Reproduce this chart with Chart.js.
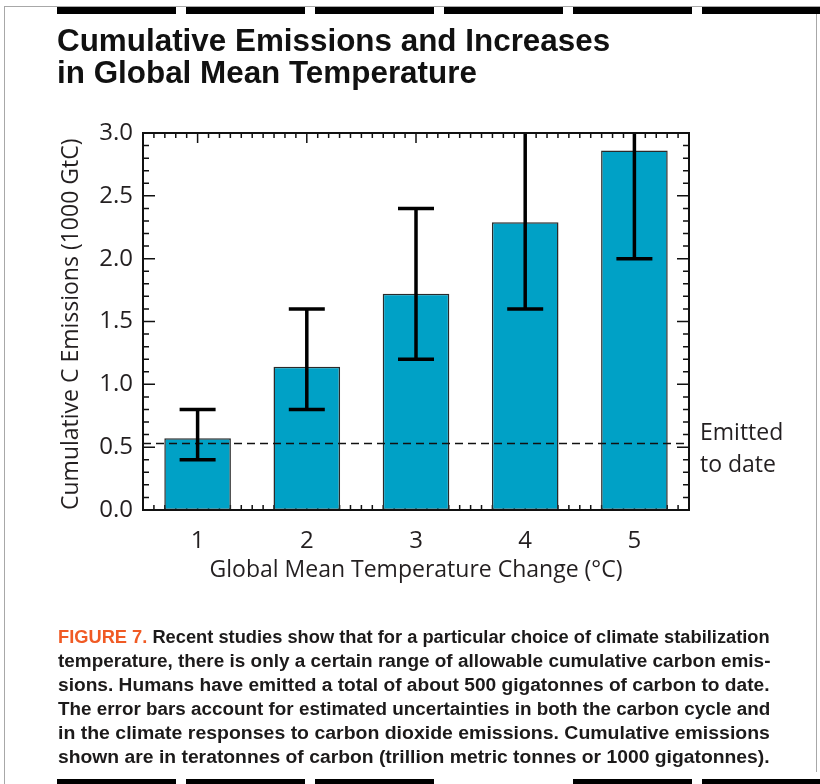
<!DOCTYPE html>
<html>
<head>
<meta charset="utf-8">
<script src="https://cdn.jsdelivr.net/npm/chart.js@4.4.0/dist/chart.umd.min.js"></script>
<style>
  html, body { margin: 0; padding: 0; background: #fff; }
  #page { position: relative; width: 820px; height: 784px; overflow: hidden; background: #fff; }
  #wrap { position: absolute; left: 0; top: 0; width: 820px; height: 784px; }
  .rule { position: absolute; background: #000; }
  .edge { position: absolute; background: #a8a8a8; }
  .title { position: absolute; left: 57px; white-space: nowrap; color: #111;
           font: bold 31px "Liberation Sans", Arial, sans-serif; line-height: 33px; transform-origin: 0 0; }
  .cap { position: absolute; left: 58px; white-space: nowrap; color: #1c1a1a;
         font: bold 17.5px "Liberation Sans", Arial, sans-serif; line-height: 24px; transform-origin: 0 0; }
  .cap b { color: #f05a24; font-weight: bold; }
  .note { position: absolute; left: 700px; color: #231f20; font: 23px "Open Sans", sans-serif; line-height: 31px; }
</style>
</head>
<body>
<div id="page">
  <div id="wrap"><canvas id="chart"></canvas></div>

  <div class="edge" style="left:4px;top:6px;width:1px;height:778px"></div>
  <div class="edge" style="left:4px;top:6px;width:816px;height:1px"></div>
  <div class="edge" style="left:816px;top:6px;width:1px;height:766px"></div>

  <div class="rule" style="left:57px;top:7px;width:119px;height:7px"></div>
  <div class="rule" style="left:186px;top:7px;width:119px;height:7px"></div>
  <div class="rule" style="left:315px;top:7px;width:119px;height:7px"></div>
  <div class="rule" style="left:444px;top:7px;width:119px;height:7px"></div>
  <div class="rule" style="left:573px;top:7px;width:119px;height:7px"></div>
  <div class="rule" style="left:702px;top:7px;width:118px;height:7px"></div>

  <div class="rule" style="left:57px;top:779px;width:119px;height:5px"></div>
  <div class="rule" style="left:186px;top:779px;width:119px;height:5px"></div>
  <div class="rule" style="left:315px;top:779px;width:119px;height:5px"></div>
  <div class="rule" style="left:573px;top:779px;width:119px;height:5px"></div>
  <div class="rule" style="left:702px;top:779px;width:118px;height:5px"></div>

  <div class="title" id="t1" style="top:24px">Cumulative Emissions and Increases</div>
  <div class="title" id="t2" style="top:56px">in Global Mean Temperature</div>

  <div class="note" style="top:416px">Emitted</div>
  <div class="note" style="top:448px">to date</div>

  <div class="cap" style="top:625px"><b>FIGURE 7.</b> Recent studies show that for a particular choice of climate stabilization</div>
  <div class="cap" style="top:649px">temperature, there is only a certain range of allowable cumulative carbon emis-</div>
  <div class="cap" style="top:673px">sions. Humans have emitted a total of about 500 gigatonnes of carbon to date.</div>
  <div class="cap" style="top:697px">The error bars account for estimated uncertainties in both the carbon cycle and</div>
  <div class="cap" style="top:721px">in the climate responses to carbon dioxide emissions. Cumulative emissions</div>
  <div class="cap" style="top:745px">shown are in teratonnes of carbon (trillion metric tonnes or 1000 gigatonnes).</div>
</div>

<script>
// values (1000 GtC)
const tempLabels = ['1', '2', '3', '4', '5'];
const emissions = [0.57, 1.14, 1.72, 2.29, 2.86];
const errLow = [0.40, 0.80, 1.20, 1.60, 2.00];
const errHigh = [0.80, 1.60, 2.40, 3.20, 3.30];   // last two run off the top
const emittedToDate = 0.53;

const ink = '#231f20';
const axisFont = '"Open Sans", "Noto Sans", sans-serif';

// justify caption lines to the column width, stretch title to its width
document.querySelectorAll('.cap').forEach(el => {
    el.style.transform = 'scaleX(' + (712 / el.offsetWidth) + ')';
});
const t1 = document.getElementById('t1');
const tScale = 553 / t1.offsetWidth;
document.querySelectorAll('.title').forEach(el => {
    el.style.transform = 'scaleX(' + tScale + ')';
});

// inward ticks on all four sides, dashed "emitted" line, error bars, frame
const axisFrame = {
    id: 'axisFrame',
    beforeDatasetsDraw(chart) {
        const { ctx, chartArea: a, scales: { x, y } } = chart;
        ctx.save();
        ctx.strokeStyle = '#111';
        ctx.lineWidth = 1.5;
        ctx.beginPath();
        for (let i = 1; i < 30; i++) {
            const py = y.getPixelForValue(i / 10);
            const len = i % 5 === 0 ? 12 : 6;
            ctx.moveTo(a.left, py); ctx.lineTo(a.left + len, py);
            ctx.moveTo(a.right, py); ctx.lineTo(a.right - len, py);
        }
        for (let i = 1; i < 50; i++) {
            const px = x.getPixelForValue(-0.5 + i / 10);
            const len = i % 10 === 5 ? 10 : 5;
            ctx.moveTo(px, a.top); ctx.lineTo(px, a.top + len);
            ctx.moveTo(px, a.bottom); ctx.lineTo(px, a.bottom - len);
        }
        ctx.stroke();
        ctx.restore();
    },
    afterDatasetsDraw(chart) {
        const { ctx, chartArea: a, scales: { x, y } } = chart;
        ctx.save();
        ctx.beginPath();
        ctx.rect(a.left, a.top, a.right - a.left, a.bottom - a.top);
        ctx.clip();

        // emitted to date
        const yd = y.getPixelForValue(emittedToDate);
        ctx.strokeStyle = '#111';
        ctx.lineWidth = 1.5;
        ctx.setLineDash([8, 5]);
        ctx.beginPath();
        ctx.moveTo(a.left, yd);
        ctx.lineTo(a.right, yd);
        ctx.stroke();
        ctx.setLineDash([]);

        // error bars
        ctx.strokeStyle = '#000';
        ctx.lineWidth = 3.5;
        ctx.beginPath();
        emissions.forEach((v, i) => {
            const px = x.getPixelForValue(i);
            const lo = y.getPixelForValue(errLow[i]);
            const hi = y.getPixelForValue(errHigh[i]);
            ctx.moveTo(px, lo); ctx.lineTo(px, hi);
            ctx.moveTo(px - 18, lo); ctx.lineTo(px + 18, lo);
            ctx.moveTo(px - 18, hi); ctx.lineTo(px + 18, hi);
        });
        ctx.stroke();
        ctx.restore();

        ctx.save();
        ctx.strokeStyle = '#111';
        ctx.lineWidth = 2;
        ctx.strokeRect(a.left, a.top, a.right - a.left, a.bottom - a.top);
        ctx.restore();
    }
};

new Chart(document.getElementById('chart'), {
    type: 'bar',
    data: {
        labels: tempLabels,
        datasets: [{
            data: emissions,
            backgroundColor: '#00a1c6',
            borderColor: '#2a2a2a',
            borderWidth: 1.5,
            borderSkipped: false,
            barPercentage: 0.61,
            categoryPercentage: 1
        }]
    },
    options: {
        responsive: true,
        maintainAspectRatio: false,
        animation: false,
        layout: { padding: { left: 58, right: 131, top: 133, bottom: 200 } },
        plugins: { legend: { display: false }, tooltip: { enabled: false } },
        scales: {
            x: {
                grid: { display: false, drawTicks: false },
                border: { display: false },
                ticks: { padding: 17, color: ink, maxRotation: 0, font: { family: axisFont, size: 24 } },
                title: {
                    display: true, text: 'Global Mean Temperature Change (°C)', padding: 0,
                    color: ink, font: { family: axisFont, size: 23 }
                },
                afterFit(s) { s.height = 74; }
            },
            y: {
                min: 0, max: 3,
                grid: { display: false, drawTicks: false },
                border: { display: false },
                ticks: {
                    stepSize: 0.5, padding: 10, color: ink,
                    font: { family: axisFont, size: 24 },
                    callback: v => v.toFixed(1)
                },
                title: {
                    display: true, text: 'Cumulative C Emissions (1000 GtC)', align: 'start', padding: 0,
                    color: ink, font: { family: axisFont, size: 23 }
                },
                afterFit(s) { s.width = 85; }
            }
        }
    },
    plugins: [axisFrame]
});
</script>
</body>
</html>
